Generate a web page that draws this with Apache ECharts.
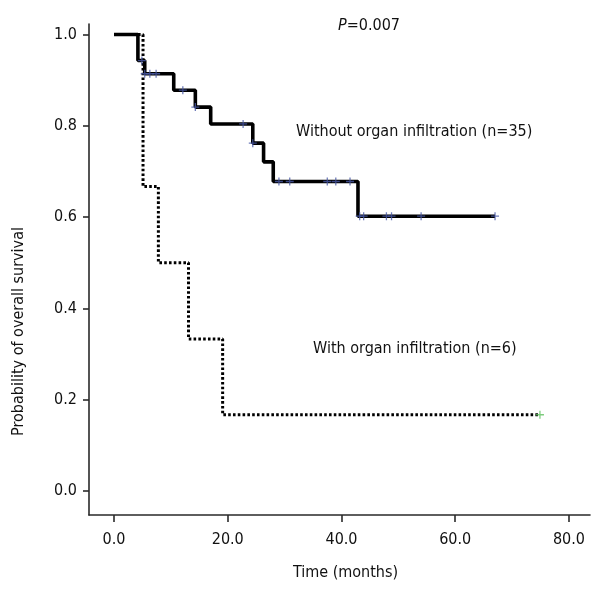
<!DOCTYPE html>
<html>
<head>
<meta charset="utf-8">
<script src="https://cdn.jsdelivr.net/npm/echarts@6/dist/echarts.min.js"></script>
<style>
  html, body { margin: 0; padding: 0; background: #fff; }
  #chart { width: 600px; height: 600px; }
</style>
</head>
<body>
<div id="chart"></div>
<script>
'use strict';

// Kaplan-Meier steps, without organ infiltration (n=35)
const withoutTimes = [0, 4.2, 5.4, 10.5, 14.3, 17.0, 24.4, 26.3, 28.0, 42.9, 67.0];
const withoutSurv  = [1.0, 0.943, 0.914, 0.878, 0.841, 0.804, 0.762, 0.721, 0.678, 0.602, 0.602];
// censored cases on that curve
const withoutCensTimes = [4.9, 5.4, 6.3, 7.4, 12.1, 14.3, 22.7, 24.4, 29.0, 30.9, 37.5, 39.0, 41.5, 43.2, 43.9, 47.9, 48.8, 54.0, 67.0];
const withoutCensSurv  = [0.943, 0.914, 0.914, 0.914, 0.878, 0.841, 0.804, 0.762, 0.678, 0.678, 0.678, 0.678, 0.678, 0.602, 0.602, 0.602, 0.602, 0.602, 0.602];

// with organ infiltration (n=6)
const withTimes = [0, 5.1, 7.8, 13.1, 19.1, 74.9];
const withSurv  = [1.0, 0.667, 0.5, 0.333, 0.167, 0.167];
const withCensTimes = [74.9];
const withCensSurv  = [0.167];

const xTicks = [0, 20, 40, 60, 80];
const yTicks = [0, 0.2, 0.4, 0.6, 0.8, 1.0];

const FONT = '"Liberation Sans Narrow", "DejaVu Sans Condensed", "Roboto", sans-serif';
const PLUS = 'path://M4.2,0H5.8V4.2H10V5.8H5.8V10H4.2V5.8H0V4.2H4.2Z';

const zip = (xs, ys) => xs.map((x, i) => [x, ys[i]]);

const chart = echarts.init(document.getElementById('chart'));

chart.setOption({
    animation: false,
    backgroundColor: '#fff',
    title: {
        text: '{i|P}=0.007',
        left: 333,
        top: 13,
        textStyle: {
            fontFamily: FONT, fontSize: 16, fontWeight: 'normal', color: '#111',
            rich: {i: {fontFamily: FONT, fontSize: 16, fontStyle: 'italic', color: '#111'}}
        }
    },
    grid: {left: 89, right: 10, top: 24, bottom: 85},
    xAxis: {
        type: 'value',
        min: -4.4,
        max: 83.7,
        name: 'Time (months)',
        nameLocation: 'middle',
        nameGap: 50,
        nameTextStyle: {fontFamily: FONT, fontSize: 16, color: '#111', padding: [0, 0, 0, 12]},
        axisLine: {onZero: false, lineStyle: {color: '#2a2a2a', width: 1.6}},
        axisTick: {customValues: xTicks, length: 7, lineStyle: {color: '#2a2a2a', width: 1.6}},
        axisLabel: {
            customValues: xTicks, margin: 17,
            fontFamily: FONT, fontSize: 16, color: '#111',
            formatter: v => v.toFixed(1)
        },
        splitLine: {show: false}
    },
    yAxis: {
        type: 'value',
        min: -0.0526,
        max: 1.023,
        name: 'Probability of overall survival',
        nameLocation: 'middle',
        nameGap: 62,
        nameTextStyle: {fontFamily: FONT, fontSize: 16, color: '#111', padding: [0, 124, 0, 0]},
        axisLine: {onZero: false, lineStyle: {color: '#2a2a2a', width: 1.6}},
        axisTick: {customValues: yTicks, length: 6, lineStyle: {color: '#2a2a2a', width: 1.6}},
        axisLabel: {
            customValues: yTicks, margin: 12,
            fontFamily: FONT, fontSize: 16, color: '#111',
            formatter: v => v.toFixed(1)
        },
        splitLine: {show: false}
    },
    graphic: [
        {type: 'text', left: 296, top: 124,
         style: {text: 'Without organ infiltration (n=35)', font: '16px ' + FONT, fill: '#111'}},
        {type: 'text', left: 313, top: 341,
         style: {text: 'With organ infiltration (n=6)', font: '16px ' + FONT, fill: '#111'}}
    ],
    series: [
        {
            name: 'With organ infiltration',
            type: 'line',
            step: 'end',
            data: zip(withTimes, withSurv),
            showSymbol: false,
            lineStyle: {color: '#000', width: 3, type: [2.6, 2.2]},
            z: 2
        },
        {
            name: 'Without organ infiltration',
            type: 'line',
            step: 'end',
            data: zip(withoutTimes, withoutSurv),
            showSymbol: false,
            lineStyle: {color: '#000', width: 3.6},
            z: 3
        },
        {
            name: 'Censored (without)',
            type: 'scatter',
            data: zip(withoutCensTimes, withoutCensSurv),
            symbol: PLUS,
            symbolSize: 8,
            itemStyle: {color: '#4a5aa8'},
            z: 4
        },
        {
            name: 'Censored (with)',
            type: 'scatter',
            data: zip(withCensTimes, withCensSurv),
            symbol: PLUS,
            symbolSize: 8,
            itemStyle: {color: '#5cbf5c'},
            z: 4
        }
    ]
});
</script>
</body>
</html>
